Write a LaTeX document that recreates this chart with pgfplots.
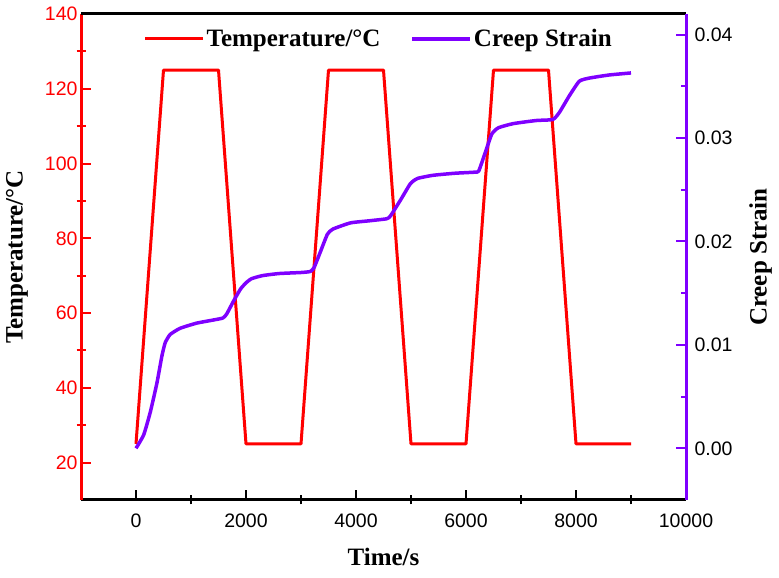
\documentclass[border=0pt]{standalone}
\usepackage{pgfplots}
\pgfplotsset{compat=1.18}
\usepackage{fontspec}
\setmainfont{Liberation Serif}
\newfontfamily\arial{Liberation Sans}
\definecolor{tred}{RGB}{255,0,0}
\definecolor{cpurple}{RGB}{127,0,255}

\begin{document}
\begin{tikzpicture}[x=1pt,y=1pt]
\pgfplotsset{
  every axis/.append style={
    scale only axis, width=605pt, height=486pt,
    xmin=-1000, xmax=10000,
    at={(81pt,78pt)}, anchor=south west,
    scaled x ticks=false, scaled y ticks=false,
    tick label style={font=\arial\fontsize{19.5}{20}\selectfont},
    /pgf/number format/assume math mode=true,
    label style={font=\bfseries\fontsize{25}{26}\selectfont},
    major tick length=10pt, tick align=inside,
  }
}
% temperature profile (left axis)
\begin{axis}[
  axis x line*=bottom, axis y line*=left,
  x axis line style={black, line width=3pt, -},
  y axis line style={tred, line width=3pt, -},
  ymin=10, ymax=140,
  ytick={20,40,60,80,100,120,140},
  minor y tick num=1,
  xtick={0,2000,4000,6000,8000,10000},
  minor x tick num=1,
  minor tick length=9pt,
  x tick style={black, line width=2pt},
  y tick style={tred, line width=2pt},
  minor x tick style={yshift=-4.5pt},
  minor y tick style={xshift=-4.5pt},
  yticklabel style={text=tred},
  xticklabel shift=10pt,
  /pgf/number format/set thousands separator={},
  xlabel={Time/s}, ylabel={Temperature/°C},
  xlabel shift=14pt, ylabel shift=10pt,
  legend style={draw=none, fill=none, at={(0.492,0.949)}, anchor=center,
    legend columns=-1, font=\bfseries\fontsize{25}{26}\selectfont,
    /tikz/every even column/.append style={column sep=28pt}},
  legend image code/.code={\draw[#1] (0pt,0pt) -- (58pt,0pt);},
]
\addplot[tred, line width=3pt, line join=round] coordinates {
  (0,25) (500,125) (1500,125) (2000,25) (3000,25) (3500,125) (4500,125)
  (5000,25) (6000,25) (6500,125) (7500,125) (8000,25) (9000,25)
};
\addlegendentry{Temperature/°C}
\addlegendimage{cpurple, line width=3.5pt}
\addlegendentry{Creep Strain}
\end{axis}
% creep strain (right axis)
\begin{axis}[
  axis x line*=top, axis y line*=right,
  x axis line style={black, line width=3pt, -},
  y axis line style={cpurple, line width=3pt, -},
  xtick=\empty,
  ymin=-0.005, ymax=0.042,
  ytick={0,0.01,0.02,0.03,0.04},
  minor y tick num=1,
  minor tick length=5pt,
  y tick style={cpurple, line width=2pt},
  yticklabel shift=5pt,
  /pgf/number format/fixed,
  /pgf/number format/fixed zerofill,
  /pgf/number format/precision=2,
  ylabel={Creep Strain},
  ylabel shift=10pt,
]
\addplot[cpurple, line width=3.5pt, smooth, tension=0.3, line join=round] coordinates {
  (0,0) (140,0.0013) (260,0.0035) (380,0.0063) (470,0.0089) (530,0.0102)
  (620,0.0110) (800,0.0116) (1100,0.0121) (1400,0.0124) (1580,0.0126)
  (1650,0.0130) (1770,0.0142) (1900,0.0154) (2000,0.0160) (2100,0.0164)
  (2300,0.0167) (2600,0.0169) (3000,0.0170) (3170,0.0171) (3240,0.0175)
  (3360,0.0191) (3480,0.0207) (3580,0.0212) (3900,0.0218) (4240,0.0220)
  (4560,0.0222) (4630,0.0225) (4820,0.0241) (4990,0.0256) (5120,0.0261)
  (5400,0.0264) (5800,0.0266) (6150,0.0267) (6230,0.0268) (6350,0.0286)
  (6470,0.0304) (6590,0.0310) (6860,0.0314) (7280,0.0317) (7580,0.0318)
  (7700,0.0325) (7880,0.0341) (8060,0.0355) (8240,0.0358) (8600,0.0361)
  (9000,0.0363)
};
\end{axis}
\pgfresetboundingbox
\path[use as bounding box] (0,0) rectangle (779,578);
\end{tikzpicture}
\end{document}
